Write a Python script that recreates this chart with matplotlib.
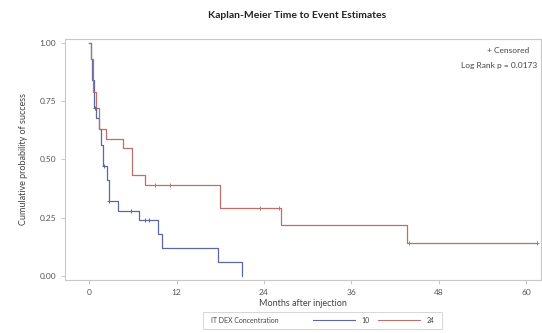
import numpy as np
import matplotlib
matplotlib.use("Agg")
import matplotlib.pyplot as plt
from matplotlib.lines import Line2D
from matplotlib.patches import Rectangle

plt.rcParams['font.family'] = ['Lato', 'DejaVu Sans']

# IT DEX concentration 10 : KM step times (months) and survival after each step
t10 = [0.0, 0.2, 0.4, 0.7, 1.0, 1.3, 1.6, 1.9, 2.4, 2.7, 3.9, 6.9, 9.4, 10.0, 17.7, 21.0]
s10 = [1.0, 0.93, 0.84, 0.72, 0.68, 0.63, 0.56, 0.47, 0.41, 0.32, 0.28, 0.24, 0.18, 0.12, 0.06, 0.0]
c10_t = [0.8, 2.1, 2.8, 5.7, 7.7, 8.2]
c10_s = [0.72, 0.47, 0.32, 0.28, 0.24, 0.24]

# IT DEX concentration 24
t24 = [0.0, 0.2, 0.5, 0.9, 1.4, 2.3, 4.6, 5.9, 7.7, 18.0, 26.4, 43.6, 61.4]
s24 = [1.0, 0.93, 0.79, 0.72, 0.63, 0.59, 0.55, 0.435, 0.39, 0.293, 0.22, 0.143, 0.143]
c24_t = [9.1, 11.1, 23.4, 26.0, 43.9, 61.4]
c24_s = [0.39, 0.39, 0.293, 0.293, 0.143, 0.143]

xticks = [0, 12, 24, 36, 48, 60]
yticks = [0.0, 0.25, 0.5, 0.75, 1.0]

blue = '#5a67a3'
red = '#bf6f6a'

fig = plt.figure(figsize=(5.42, 3.33), dpi=100)
ax = fig.add_axes([0.120, 0.160, 0.878, 0.723])

ax.step(t10, s10, where='post', color=blue, lw=0.9)
ax.step(t24, s24, where='post', color=red, lw=0.9)
ax.plot(c10_t, c10_s, ls='none', marker='+', ms=3, mew=0.7, color=blue)
ax.plot(c24_t, c24_s, ls='none', marker='+', ms=3, mew=0.7, color=red)

ax.set_xlim(-3.3, 62.0)
ax.set_ylim(-0.017, 1.018)
ax.set_xticks(xticks)
ax.set_yticks(yticks)
ax.set_yticklabels(['%.2f' % v for v in yticks])
for sp in ax.spines.values():
    sp.set_color('#c8c8c8')
    sp.set_linewidth(0.8)
ax.tick_params(colors='#c0c0c0', labelcolor='#555555', labelsize=6, length=3, width=0.6)

ax.set_xlabel('Months after injection', fontsize=6.5, color='#444444', labelpad=2)
ax.set_ylabel('Cumulative probability of success', fontsize=6.5, color='#444444', labelpad=8)

ax.text(0.975, 0.965, '+ Censored', transform=ax.transAxes, ha='right', va='top',
        fontsize=6, color='#444444')
ax.text(0.992, 0.905, 'Log Rank p = 0.0173', transform=ax.transAxes, ha='right', va='top',
        fontsize=6, color='#444444')

fig.text(0.548, 0.953, 'Kaplan-Meier Time to Event Estimates', ha='center', va='center',
         fontsize=7.5, fontweight='bold', color='#222222')

# legend row
fig.add_artist(Rectangle((0.375, 0.013), 0.44, 0.05, transform=fig.transFigure,
                         fill=False, ec='#d0d0d0', lw=0.6))
fig.text(0.39, 0.038, 'IT DEX Concentration', ha='left', va='center', fontsize=5, color='#444444')
handles = [Line2D([], [], color=blue, lw=0.8), Line2D([], [], color=red, lw=0.8)]
fig.legend(handles, ['10', '24'], ncol=2, frameon=False, fontsize=5, handlelength=6,
           columnspacing=1.2, handletextpad=1.0, loc='center', bbox_to_anchor=(0.69, 0.038),
           labelcolor='#444444')

fig.savefig('out.png', dpi=100)
